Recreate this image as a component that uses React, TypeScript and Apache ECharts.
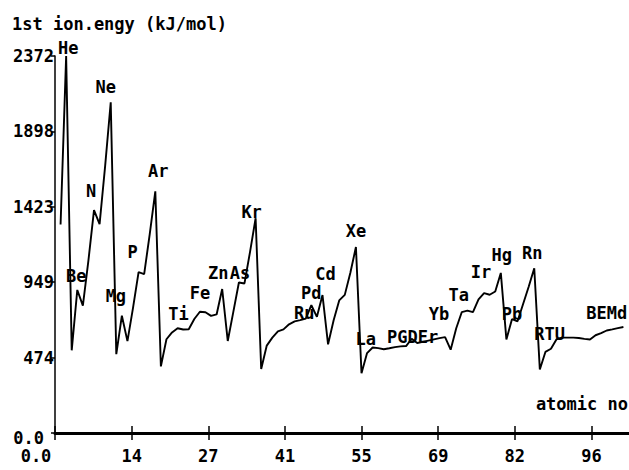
import React, { useEffect, useRef } from "react";
import * as echarts from "echarts";

// First ionization energy (kJ/mol) for atomic numbers 1..102
const ionEnergy = [
  1312, 2372, 520, 900, 801, 1086, 1402, 1314, 1681, 2081,
  496, 738, 578, 787, 1012, 1000, 1251, 1521, 419, 590,
  633, 659, 651, 653, 717, 763, 760, 737, 746, 906,
  579, 762, 947, 941, 1140, 1351, 403, 550, 600, 640,
  652, 684, 702, 710, 720, 804, 731, 868, 558, 709,
  834, 869, 1008, 1170, 376, 503, 538, 534, 527, 533,
  540, 545, 547, 593, 566, 573, 581, 589, 597, 603,
  524, 659, 761, 770, 760, 840, 880, 870, 890, 1007,
  589, 716, 703, 812, 920, 1037, 400, 510, 530, 590,
  600, 600, 600, 598, 592, 588, 615, 628, 645, 652,
  660, 667,
];

// element labels: [text, atomic number it annotates]
const elementLabels: [string, number][] = [
  ["He", 2], ["Ne", 10], ["N", 7], ["Be", 4], ["Mg", 12], ["P", 15],
  ["Ar", 18], ["Ti", 22], ["Fe", 26], ["Zn", 30], ["As", 33], ["Kr", 36],
  ["Ru", 44], ["Pd", 46], ["Cd", 48], ["Xe", 54], ["La", 57], ["PGDEr", 64],
  ["Yb", 70], ["Ta", 73], ["Ir", 77], ["Hg", 80], ["Pb", 82], ["Rn", 86],
  ["RTU", 90], ["BEMd", 99],
];

const xTickLabels = ["0.0", "14", "27", "41", "55", "69", "82", "96", "110"];
const yTickLabels = ["0.0", "474", "949", "1423", "1898", "2372"];

const X_MAX = 110;
const X_STEP = 13.75;
const Y_MAX = 2372;
const Y_STEP = 474.4;

// label placement offsets (px) — styling only
const labelOffsets: Record<string, [number, number]> = {
  He: [2, -8], Ne: [-5, -15], N: [-3, -19], Be: [-1, -14], Mg: [-6, -20],
  P: [-6, -20], Ar: [3, -20], Ti: [1, -14], Fe: [0, -19], Zn: [-4, -16],
  As: [1, -9], Kr: [-4, -6], Ru: [4, -7], Pd: [0, -12], Cd: [3, -21],
  Xe: [0, -16], La: [-7, -8], PGDEr: [1, -2], Yb: [-6, -23], Ta: [-3, -17],
  Ir: [-3, -21], Hg: [1, -18], Pb: [0, -5], Rn: [-2, -15], RTU: [-7, -5],
  BEMd: [0, -17],
};

const FONT = '"DejaVu Sans Mono", "Liberation Mono", monospace';
const FS = 17;

export default function App() {
  const ref = useRef<HTMLDivElement>(null);
  useEffect(() => {
    const chart = echarts.init(ref.current!, null, { renderer: "svg", width: 629, height: 470 });
    const textBase = {
      fontFamily: FONT,
      fontSize: FS,
      fontWeight: "bold" as const,
      color: "#000",
      textBorderWidth: 0,
    };
    chart.setOption({
      animation: false,
      backgroundColor: "#fff",
      grid: {
        left: 55,
        top: 56,
        width: 613,
        height: 377,
        containLabel: false,
        outerBoundsMode: "none",
      },
      xAxis: [
        {
          type: "value",
          min: 0,
          max: X_MAX,
          interval: X_STEP,
          position: "bottom",
          splitLine: { show: false },
          axisLine: { show: true, onZero: false, lineStyle: { color: "#000", width: 3 } },
          axisTick: { show: true, inside: false, length: 7, lineStyle: { color: "#000", width: 1.5 } },
          axisLabel: {
            ...textBase,
            margin: 14,
            showMaxLabel: false,
            formatter: (v: number) => {
              const i = Math.round(v / X_STEP);
              return i === 0 ? "{z|" + xTickLabels[0] + "}" : xTickLabels[i];
            },
            rich: { z: { ...textBase, padding: [0, 38, 0, 0] } },
          },
        },
        {
          type: "value",
          min: 0,
          max: X_MAX,
          interval: X_STEP,
          position: "bottom",
          splitLine: { show: false },
          axisLine: { show: false },
          axisTick: { show: true, inside: true, length: 7, lineStyle: { color: "#000", width: 1.5 } },
          axisLabel: { show: false },
        },
      ],
      yAxis: {
        type: "value",
        min: 0,
        max: Y_MAX,
        interval: Y_STEP,
        splitLine: { show: false },
        axisLine: { show: true, onZero: false, lineStyle: { color: "#000", width: 1.5 } },
        axisTick: { show: true, inside: false, length: 4, lineStyle: { color: "#000", width: 1.5 } },
        axisLabel: {
          ...textBase,
          margin: 1,
          formatter: (v: number) => {
            const i = Math.round(v / Y_STEP);
            return i === 0 ? "{z|" + yTickLabels[0] + "}" : yTickLabels[i];
          },
          rich: { z: { ...textBase, padding: [9, 10, 0, 0] } },
        },
      },
      series: [
        {
          type: "line",
          data: ionEnergy.map((v, i) => [i + 1, v]),
          showSymbol: false,
          symbol: "none",
          lineStyle: { color: "#000", width: 1.9 },
          silent: true,
          z: 2,
        },
        {
          type: "scatter",
          symbolSize: 0,
          silent: true,
          z: 3,
          itemStyle: { color: "#000", opacity: 1 },
          data: elementLabels.map(([name, z]) => ({
            name,
            value: [z, ionEnergy[z - 1]],
            label: { offset: labelOffsets[name] || [0, 0] },
          })),
          label: {
            show: true,
            position: "inside",
            formatter: "{b}",
            ...textBase,
            opacity: 1,
            textBorderColor: "transparent",
          },
        },
      ],
      graphic: [
        {
          type: "text",
          left: 12,
          top: 15,
          style: { text: "1st ion.engy (kJ/mol)", font: `bold ${FS}px ${FONT}`, fill: "#000" },
        },
        {
          type: "text",
          right: 1,
          top: 395,
          style: { text: "atomic no", font: `bold ${FS}px ${FONT}`, fill: "#000" },
        },
      ],
    });
    return () => chart.dispose();
  }, []);
  return (
    <div
      ref={ref}
      style={{ position: "absolute", left: 0, top: 0, width: 629, height: 470, overflow: "hidden", background: "#fff" }}
    />
  );
}
